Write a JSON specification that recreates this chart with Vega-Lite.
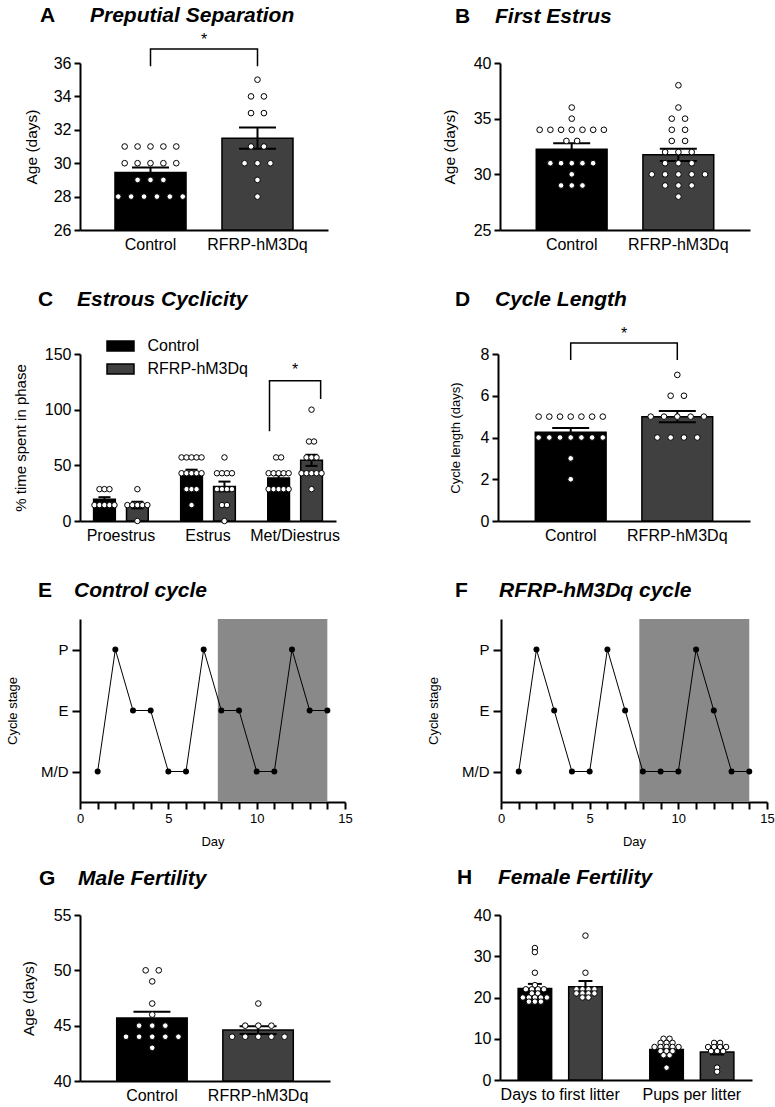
{
 "$schema": "https://vega.github.io/schema/vega-lite/v6.json",
 "padding": {"left": 6, "top": 4, "right": 0, "bottom": 0},
 "background": "white",
 "config": {
  "font": "Liberation Sans",
  "view": {"stroke": null},
  "axis": {"domainColor": "black", "domainWidth": 2, "tickColor": "black", "tickWidth": 2, "tickSize": 6, "labelColor": "black", "labelFontSize": 16, "labelFont": "Liberation Sans", "titleFont": "Liberation Sans", "titleFontSize": 15.5, "titleColor": "black", "titleFontWeight": "normal", "grid": false, "labelPadding": 3, "labelOverlap": false},
  "title": {"anchor": "start", "frame": "group", "font": "Liberation Sans", "fontSize": 21, "fontWeight": "bold", "color": "black"},
  "legend": {"labelFont": "Liberation Sans"}
 },
 "datasets": {
  "A_sum": [{"group": "Control", "mean": 29.45, "sem": 0.3}, {"group": "RFRP-hM3Dq", "mean": 31.5, "sem": 0.64}],
  "A_pts": [
   {"group": "Control", "v": 31}, {"group": "Control", "v": 31}, {"group": "Control", "v": 31}, {"group": "Control", "v": 31}, {"group": "Control", "v": 31},
   {"group": "Control", "v": 30}, {"group": "Control", "v": 30}, {"group": "Control", "v": 30}, {"group": "Control", "v": 30}, {"group": "Control", "v": 30},
   {"group": "Control", "v": 29}, {"group": "Control", "v": 29}, {"group": "Control", "v": 29},
   {"group": "Control", "v": 28}, {"group": "Control", "v": 28}, {"group": "Control", "v": 28}, {"group": "Control", "v": 28}, {"group": "Control", "v": 28}, {"group": "Control", "v": 28},
   {"group": "RFRP-hM3Dq", "v": 35}, {"group": "RFRP-hM3Dq", "v": 34}, {"group": "RFRP-hM3Dq", "v": 34}, {"group": "RFRP-hM3Dq", "v": 33}, {"group": "RFRP-hM3Dq", "v": 33},
   {"group": "RFRP-hM3Dq", "v": 31}, {"group": "RFRP-hM3Dq", "v": 31}, {"group": "RFRP-hM3Dq", "v": 30}, {"group": "RFRP-hM3Dq", "v": 30}, {"group": "RFRP-hM3Dq", "v": 30},
   {"group": "RFRP-hM3Dq", "v": 29}, {"group": "RFRP-hM3Dq", "v": 28}
  ],
  "A_br": [{"group": "Control", "v": 35.8, "o": 1}, {"group": "Control", "v": 36.84, "o": 2}, {"group": "RFRP-hM3Dq", "v": 36.84, "o": 3}, {"group": "RFRP-hM3Dq", "v": 35.8, "o": 4}],
  "A_star": [{"group": "Control", "v": 37.1, "t": "*"}],
  "B_sum": [{"group": "Control", "mean": 32.25, "sem": 0.55}, {"group": "RFRP-hM3Dq", "mean": 31.75, "sem": 0.55}],
  "B_pts": [
   {"group": "Control", "v": 36}, {"group": "Control", "v": 35},
   {"group": "Control", "v": 34}, {"group": "Control", "v": 34}, {"group": "Control", "v": 34}, {"group": "Control", "v": 34}, {"group": "Control", "v": 34}, {"group": "Control", "v": 34}, {"group": "Control", "v": 34},
   {"group": "Control", "v": 33}, {"group": "Control", "v": 33},
   {"group": "Control", "v": 31}, {"group": "Control", "v": 31}, {"group": "Control", "v": 31}, {"group": "Control", "v": 31}, {"group": "Control", "v": 31},
   {"group": "Control", "v": 30}, {"group": "Control", "v": 29}, {"group": "Control", "v": 29}, {"group": "Control", "v": 29},
   {"group": "RFRP-hM3Dq", "v": 38}, {"group": "RFRP-hM3Dq", "v": 36}, {"group": "RFRP-hM3Dq", "v": 35}, {"group": "RFRP-hM3Dq", "v": 35},
   {"group": "RFRP-hM3Dq", "v": 34}, {"group": "RFRP-hM3Dq", "v": 34}, {"group": "RFRP-hM3Dq", "v": 33}, {"group": "RFRP-hM3Dq", "v": 33},
   {"group": "RFRP-hM3Dq", "v": 32}, {"group": "RFRP-hM3Dq", "v": 32}, {"group": "RFRP-hM3Dq", "v": 32},
   {"group": "RFRP-hM3Dq", "v": 31}, {"group": "RFRP-hM3Dq", "v": 31}, {"group": "RFRP-hM3Dq", "v": 31},
   {"group": "RFRP-hM3Dq", "v": 30}, {"group": "RFRP-hM3Dq", "v": 30}, {"group": "RFRP-hM3Dq", "v": 30}, {"group": "RFRP-hM3Dq", "v": 30}, {"group": "RFRP-hM3Dq", "v": 30},
   {"group": "RFRP-hM3Dq", "v": 29}, {"group": "RFRP-hM3Dq", "v": 29}, {"group": "RFRP-hM3Dq", "v": 29}, {"group": "RFRP-hM3Dq", "v": 28}
  ],
  "C_sum": [
   {"phase": "Proestrus", "series": "Control", "mean": 19.6, "sem": 1.8},
   {"phase": "Proestrus", "series": "RFRP-hM3Dq", "mean": 14.3, "sem": 3.0},
   {"phase": "Estrus", "series": "Control", "mean": 42.9, "sem": 3.2},
   {"phase": "Estrus", "series": "RFRP-hM3Dq", "mean": 31.0, "sem": 4.4},
   {"phase": "Met/Diestrus", "series": "Control", "mean": 38.6, "sem": 2.6},
   {"phase": "Met/Diestrus", "series": "RFRP-hM3Dq", "mean": 54.5, "sem": 5.0}
  ],
  "C_pts": [
   {"phase": "Proestrus", "series": "Control", "v": 28.6}, {"phase": "Proestrus", "series": "Control", "v": 28.6}, {"phase": "Proestrus", "series": "Control", "v": 28.6},
   {"phase": "Proestrus", "series": "Control", "v": 14.3}, {"phase": "Proestrus", "series": "Control", "v": 14.3}, {"phase": "Proestrus", "series": "Control", "v": 14.3}, {"phase": "Proestrus", "series": "Control", "v": 14.3}, {"phase": "Proestrus", "series": "Control", "v": 14.3},
   {"phase": "Proestrus", "series": "RFRP-hM3Dq", "v": 28.6},
   {"phase": "Proestrus", "series": "RFRP-hM3Dq", "v": 14.3}, {"phase": "Proestrus", "series": "RFRP-hM3Dq", "v": 14.3}, {"phase": "Proestrus", "series": "RFRP-hM3Dq", "v": 14.3}, {"phase": "Proestrus", "series": "RFRP-hM3Dq", "v": 14.3}, {"phase": "Proestrus", "series": "RFRP-hM3Dq", "v": 14.3},
   {"phase": "Proestrus", "series": "RFRP-hM3Dq", "v": 0},
   {"phase": "Estrus", "series": "Control", "v": 57.1}, {"phase": "Estrus", "series": "Control", "v": 57.1}, {"phase": "Estrus", "series": "Control", "v": 57.1}, {"phase": "Estrus", "series": "Control", "v": 57.1}, {"phase": "Estrus", "series": "Control", "v": 57.1},
   {"phase": "Estrus", "series": "Control", "v": 42.9}, {"phase": "Estrus", "series": "Control", "v": 42.9}, {"phase": "Estrus", "series": "Control", "v": 42.9}, {"phase": "Estrus", "series": "Control", "v": 42.9}, {"phase": "Estrus", "series": "Control", "v": 42.9},
   {"phase": "Estrus", "series": "Control", "v": 28.6}, {"phase": "Estrus", "series": "Control", "v": 28.6}, {"phase": "Estrus", "series": "Control", "v": 28.6},
   {"phase": "Estrus", "series": "Control", "v": 14.3},
   {"phase": "Estrus", "series": "RFRP-hM3Dq", "v": 57.1},
   {"phase": "Estrus", "series": "RFRP-hM3Dq", "v": 42.9}, {"phase": "Estrus", "series": "RFRP-hM3Dq", "v": 42.9}, {"phase": "Estrus", "series": "RFRP-hM3Dq", "v": 42.9}, {"phase": "Estrus", "series": "RFRP-hM3Dq", "v": 42.9},
   {"phase": "Estrus", "series": "RFRP-hM3Dq", "v": 28.6}, {"phase": "Estrus", "series": "RFRP-hM3Dq", "v": 28.6}, {"phase": "Estrus", "series": "RFRP-hM3Dq", "v": 28.6}, {"phase": "Estrus", "series": "RFRP-hM3Dq", "v": 28.6},
   {"phase": "Estrus", "series": "RFRP-hM3Dq", "v": 14.3}, {"phase": "Estrus", "series": "RFRP-hM3Dq", "v": 14.3},
   {"phase": "Estrus", "series": "RFRP-hM3Dq", "v": 0},
   {"phase": "Met/Diestrus", "series": "Control", "v": 57.1}, {"phase": "Met/Diestrus", "series": "Control", "v": 57.1},
   {"phase": "Met/Diestrus", "series": "Control", "v": 42.9}, {"phase": "Met/Diestrus", "series": "Control", "v": 42.9}, {"phase": "Met/Diestrus", "series": "Control", "v": 42.9}, {"phase": "Met/Diestrus", "series": "Control", "v": 42.9}, {"phase": "Met/Diestrus", "series": "Control", "v": 42.9},
   {"phase": "Met/Diestrus", "series": "Control", "v": 28.6}, {"phase": "Met/Diestrus", "series": "Control", "v": 28.6}, {"phase": "Met/Diestrus", "series": "Control", "v": 28.6}, {"phase": "Met/Diestrus", "series": "Control", "v": 28.6}, {"phase": "Met/Diestrus", "series": "Control", "v": 28.6},
   {"phase": "Met/Diestrus", "series": "RFRP-hM3Dq", "v": 100},
   {"phase": "Met/Diestrus", "series": "RFRP-hM3Dq", "v": 71.4}, {"phase": "Met/Diestrus", "series": "RFRP-hM3Dq", "v": 71.4},
   {"phase": "Met/Diestrus", "series": "RFRP-hM3Dq", "v": 57.1}, {"phase": "Met/Diestrus", "series": "RFRP-hM3Dq", "v": 57.1}, {"phase": "Met/Diestrus", "series": "RFRP-hM3Dq", "v": 57.1},
   {"phase": "Met/Diestrus", "series": "RFRP-hM3Dq", "v": 42.9}, {"phase": "Met/Diestrus", "series": "RFRP-hM3Dq", "v": 42.9}, {"phase": "Met/Diestrus", "series": "RFRP-hM3Dq", "v": 42.9}, {"phase": "Met/Diestrus", "series": "RFRP-hM3Dq", "v": 42.9}, {"phase": "Met/Diestrus", "series": "RFRP-hM3Dq", "v": 42.9},
   {"phase": "Met/Diestrus", "series": "RFRP-hM3Dq", "v": 28.6}
  ],
  "C_br": [{"phase": "Met/Diestrus", "series": "Control", "v": 80.6, "o": 1}, {"phase": "Met/Diestrus", "series": "Control", "v": 126, "o": 2}, {"phase": "Met/Diestrus", "series": "RFRP-hM3Dq", "v": 126, "o": 3}, {"phase": "Met/Diestrus", "series": "RFRP-hM3Dq", "v": 109.6, "o": 4}],
  "C_star": [{"phase": "Met/Diestrus", "v": 131, "t": "*"}],
  "D_sum": [{"group": "Control", "mean": 4.25, "sem": 0.21}, {"group": "RFRP-hM3Dq", "mean": 5.0, "sem": 0.27}],
  "D_pts": [
   {"group": "Control", "v": 5}, {"group": "Control", "v": 5}, {"group": "Control", "v": 5}, {"group": "Control", "v": 5}, {"group": "Control", "v": 5}, {"group": "Control", "v": 5}, {"group": "Control", "v": 5},
   {"group": "Control", "v": 4}, {"group": "Control", "v": 4}, {"group": "Control", "v": 4}, {"group": "Control", "v": 4}, {"group": "Control", "v": 4}, {"group": "Control", "v": 4}, {"group": "Control", "v": 4},
   {"group": "Control", "v": 3}, {"group": "Control", "v": 2},
   {"group": "RFRP-hM3Dq", "v": 7}, {"group": "RFRP-hM3Dq", "v": 6}, {"group": "RFRP-hM3Dq", "v": 6},
   {"group": "RFRP-hM3Dq", "v": 5}, {"group": "RFRP-hM3Dq", "v": 5}, {"group": "RFRP-hM3Dq", "v": 5}, {"group": "RFRP-hM3Dq", "v": 5}, {"group": "RFRP-hM3Dq", "v": 5},
   {"group": "RFRP-hM3Dq", "v": 4}, {"group": "RFRP-hM3Dq", "v": 4}, {"group": "RFRP-hM3Dq", "v": 4}, {"group": "RFRP-hM3Dq", "v": 4}
  ],
  "D_br": [{"group": "Control", "v": 7.71, "o": 1}, {"group": "Control", "v": 8.53, "o": 2}, {"group": "RFRP-hM3Dq", "v": 8.53, "o": 3}, {"group": "RFRP-hM3Dq", "v": 7.71, "o": 4}],
  "D_star": [{"group": "Control", "v": 8.72, "t": "*"}],
  "E_shade": [{"start": 7.8, "end": 14}],
  "E_cycle": [
   {"day": 1, "stage": "M/D"}, {"day": 2, "stage": "P"}, {"day": 3, "stage": "E"}, {"day": 4, "stage": "E"}, {"day": 5, "stage": "M/D"}, {"day": 6, "stage": "M/D"}, {"day": 7, "stage": "P"},
   {"day": 8, "stage": "E"}, {"day": 9, "stage": "E"}, {"day": 10, "stage": "M/D"}, {"day": 11, "stage": "M/D"}, {"day": 12, "stage": "P"}, {"day": 13, "stage": "E"}, {"day": 14, "stage": "E"}
  ],
  "F_cycle": [
   {"day": 1, "stage": "M/D"}, {"day": 2, "stage": "P"}, {"day": 3, "stage": "E"}, {"day": 4, "stage": "M/D"}, {"day": 5, "stage": "M/D"}, {"day": 6, "stage": "P"}, {"day": 7, "stage": "E"},
   {"day": 8, "stage": "M/D"}, {"day": 9, "stage": "M/D"}, {"day": 10, "stage": "M/D"}, {"day": 11, "stage": "P"}, {"day": 12, "stage": "E"}, {"day": 13, "stage": "M/D"}, {"day": 14, "stage": "M/D"}
  ],
  "G_sum": [{"group": "Control", "mean": 45.7, "sem": 0.56}, {"group": "RFRP-hM3Dq", "mean": 44.6, "sem": 0.35}],
  "G_pts": [
   {"group": "Control", "v": 50}, {"group": "Control", "v": 50}, {"group": "Control", "v": 49}, {"group": "Control", "v": 47}, {"group": "Control", "v": 46},
   {"group": "Control", "v": 45}, {"group": "Control", "v": 45}, {"group": "Control", "v": 45},
   {"group": "Control", "v": 44}, {"group": "Control", "v": 44}, {"group": "Control", "v": 44}, {"group": "Control", "v": 44}, {"group": "Control", "v": 44},
   {"group": "Control", "v": 43},
   {"group": "RFRP-hM3Dq", "v": 47}, {"group": "RFRP-hM3Dq", "v": 45}, {"group": "RFRP-hM3Dq", "v": 45}, {"group": "RFRP-hM3Dq", "v": 45},
   {"group": "RFRP-hM3Dq", "v": 44}, {"group": "RFRP-hM3Dq", "v": 44}, {"group": "RFRP-hM3Dq", "v": 44}, {"group": "RFRP-hM3Dq", "v": 44}, {"group": "RFRP-hM3Dq", "v": 44}
  ],
  "H_sum": [
   {"grp": "Days to first litter", "series": "Control", "mean": 22.2, "sem": 1.1},
   {"grp": "Days to first litter", "series": "RFRP-hM3Dq", "mean": 22.6, "sem": 1.4},
   {"grp": "Pups per litter", "series": "Control", "mean": 7.4, "sem": 0.45},
   {"grp": "Pups per litter", "series": "RFRP-hM3Dq", "mean": 6.8, "sem": 0.6}
  ],
  "H_pts": [
   {"grp": "Days to first litter", "series": "Control", "v": 32}, {"grp": "Days to first litter", "series": "Control", "v": 31}, {"grp": "Days to first litter", "series": "Control", "v": 26}, {"grp": "Days to first litter", "series": "Control", "v": 23},
   {"grp": "Days to first litter", "series": "Control", "v": 22}, {"grp": "Days to first litter", "series": "Control", "v": 22}, {"grp": "Days to first litter", "series": "Control", "v": 22}, {"grp": "Days to first litter", "series": "Control", "v": 22},
   {"grp": "Days to first litter", "series": "Control", "v": 21}, {"grp": "Days to first litter", "series": "Control", "v": 21},
   {"grp": "Days to first litter", "series": "Control", "v": 20}, {"grp": "Days to first litter", "series": "Control", "v": 20}, {"grp": "Days to first litter", "series": "Control", "v": 20}, {"grp": "Days to first litter", "series": "Control", "v": 20}, {"grp": "Days to first litter", "series": "Control", "v": 20},
   {"grp": "Days to first litter", "series": "Control", "v": 19}, {"grp": "Days to first litter", "series": "Control", "v": 19}, {"grp": "Days to first litter", "series": "Control", "v": 19},
   {"grp": "Days to first litter", "series": "RFRP-hM3Dq", "v": 35}, {"grp": "Days to first litter", "series": "RFRP-hM3Dq", "v": 26},
   {"grp": "Days to first litter", "series": "RFRP-hM3Dq", "v": 22}, {"grp": "Days to first litter", "series": "RFRP-hM3Dq", "v": 22}, {"grp": "Days to first litter", "series": "RFRP-hM3Dq", "v": 22}, {"grp": "Days to first litter", "series": "RFRP-hM3Dq", "v": 22},
   {"grp": "Days to first litter", "series": "RFRP-hM3Dq", "v": 21}, {"grp": "Days to first litter", "series": "RFRP-hM3Dq", "v": 21}, {"grp": "Days to first litter", "series": "RFRP-hM3Dq", "v": 21}, {"grp": "Days to first litter", "series": "RFRP-hM3Dq", "v": 21},
   {"grp": "Days to first litter", "series": "RFRP-hM3Dq", "v": 20}, {"grp": "Days to first litter", "series": "RFRP-hM3Dq", "v": 20},
   {"grp": "Pups per litter", "series": "Control", "v": 10}, {"grp": "Pups per litter", "series": "Control", "v": 10},
   {"grp": "Pups per litter", "series": "Control", "v": 9}, {"grp": "Pups per litter", "series": "Control", "v": 9}, {"grp": "Pups per litter", "series": "Control", "v": 9},
   {"grp": "Pups per litter", "series": "Control", "v": 8}, {"grp": "Pups per litter", "series": "Control", "v": 8}, {"grp": "Pups per litter", "series": "Control", "v": 8}, {"grp": "Pups per litter", "series": "Control", "v": 8}, {"grp": "Pups per litter", "series": "Control", "v": 8},
   {"grp": "Pups per litter", "series": "Control", "v": 7}, {"grp": "Pups per litter", "series": "Control", "v": 7}, {"grp": "Pups per litter", "series": "Control", "v": 7},
   {"grp": "Pups per litter", "series": "Control", "v": 6}, {"grp": "Pups per litter", "series": "Control", "v": 6},
   {"grp": "Pups per litter", "series": "Control", "v": 3},
   {"grp": "Pups per litter", "series": "RFRP-hM3Dq", "v": 9}, {"grp": "Pups per litter", "series": "RFRP-hM3Dq", "v": 9},
   {"grp": "Pups per litter", "series": "RFRP-hM3Dq", "v": 8}, {"grp": "Pups per litter", "series": "RFRP-hM3Dq", "v": 8}, {"grp": "Pups per litter", "series": "RFRP-hM3Dq", "v": 8}, {"grp": "Pups per litter", "series": "RFRP-hM3Dq", "v": 8},
   {"grp": "Pups per litter", "series": "RFRP-hM3Dq", "v": 7}, {"grp": "Pups per litter", "series": "RFRP-hM3Dq", "v": 7}, {"grp": "Pups per litter", "series": "RFRP-hM3Dq", "v": 7},
   {"grp": "Pups per litter", "series": "RFRP-hM3Dq", "v": 3}, {"grp": "Pups per litter", "series": "RFRP-hM3Dq", "v": 2}
  ]
 },
 "resolve": {"scale": {"xOffset": "independent", "fill": "independent"}},
 "spacing": 37,
 "vconcat": [
  {
   "resolve": {"scale": {"xOffset": "independent", "fill": "independent"}},
   "spacing": 36,
   "vconcat": [
    {
     "resolve": {"scale": {"xOffset": "independent", "fill": "independent"}},
     "spacing": 114,
     "hconcat": [
      {
       "title": {"text": "A", "fontStyle": "normal", "dx": -40, "dy": 21, "offset": 0},
       "resolve": {"scale": {"xOffset": "independent", "fill": "independent"}},
       "spacing": 0,
       "vconcat": [{
       "width": 248, "height": 167,
       "title": {"text": "Preputial Separation", "fontStyle": "italic", "dx": 10, "offset": 6},
       "resolve": {"scale": {"xOffset": "independent"}},
       "layer": [
        {"data": {"name": "A_sum"}, "mark": {"type": "bar", "stroke": "black", "strokeWidth": 1.5},
         "encoding": {
          "x": {"field": "group", "type": "nominal", "sort": null, "scale": {"domain": ["Control", "RFRP-hM3Dq"], "paddingInner": 0.336, "paddingOuter": 0.327}, "axis": {"title": null, "ticks": false, "labelAngle": 0, "labelPadding": 6, "labelOverlap": false}},
          "y": {"field": "mean", "type": "quantitative", "scale": {"domain": [26, 36], "nice": false, "zero": false}, "axis": {"title": "Age (days)", "values": [26, 28, 30, 32, 34, 36], "tickCount": 20, "format": "d", "titlePadding": 14, "labelOverlap": false}},
          "y2": {"datum": 26},
          "fill": {"field": "group", "type": "nominal", "scale": {"domain": ["Control", "RFRP-hM3Dq"], "range": ["#000000", "#404040"]}, "legend": null}
         }},
        {"data": {"name": "A_sum"}, "transform": [{"calculate": "datum.mean - datum.sem", "as": "lo"}, {"calculate": "datum.mean + datum.sem", "as": "hi"}],
         "mark": {"type": "rule", "color": "black", "strokeWidth": 2},
         "encoding": {"x": {"field": "group", "type": "nominal"}, "y": {"field": "lo", "type": "quantitative"}, "y2": {"field": "hi"}}},
        {"data": {"name": "A_sum"}, "transform": [{"calculate": "datum.mean - datum.sem", "as": "lo"}, {"calculate": "datum.mean + datum.sem", "as": "hi"}, {"fold": ["lo", "hi"], "as": ["end", "ev"]}],
         "mark": {"type": "tick", "color": "black", "thickness": 2, "size": 37, "opacity": 1},
         "encoding": {"x": {"field": "group", "type": "nominal"}, "y": {"field": "ev", "type": "quantitative"}}},
        {"data": {"name": "A_pts"}, "transform": [{"window": [{"op": "row_number", "as": "r"}, {"op": "count", "as": "n"}], "groupby": ["group", "v"], "frame": [null, null]}, {"calculate": "(datum.r - (datum.n + 1) / 2) * 12.9", "as": "j"}],
         "mark": {"type": "circle", "size": 32, "fill": "white", "stroke": "black", "strokeWidth": 1, "opacity": 1},
         "encoding": {"x": {"field": "group", "type": "nominal"}, "xOffset": {"field": "j", "type": "quantitative", "scale": {"domain": [-35.5, 35.5], "range": [0, 71]}}, "y": {"field": "v", "type": "quantitative"}}},
        {"data": {"name": "A_br"}, "mark": {"type": "line", "color": "black", "strokeWidth": 1.5},
         "encoding": {"x": {"field": "group", "type": "nominal"}, "y": {"field": "v", "type": "quantitative"}, "order": {"field": "o"}}},
        {"data": {"name": "A_star"}, "mark": {"type": "text", "fontSize": 16, "baseline": "alphabetic", "align": "center", "color": "black"},
         "encoding": {"x": {"field": "group", "type": "nominal", "bandPosition": 1.254}, "y": {"field": "v", "type": "quantitative"}, "text": {"field": "t"}}}
       ]
       }]
      },
      {
       "title": {"text": "B", "fontStyle": "normal", "dx": -45, "dy": 21, "offset": 0},
       "resolve": {"scale": {"xOffset": "independent", "fill": "independent"}},
       "spacing": 0,
       "vconcat": [{
       "width": 250, "height": 167,
       "title": {"text": "First Estrus", "fontStyle": "italic", "dx": -5, "offset": 28},
       "resolve": {"scale": {"xOffset": "independent"}},
       "layer": [
        {"data": {"name": "B_sum"}, "mark": {"type": "bar", "stroke": "black", "strokeWidth": 1.5},
         "encoding": {
          "x": {"field": "group", "type": "nominal", "sort": null, "scale": {"domain": ["Control", "RFRP-hM3Dq"], "paddingInner": 0.336, "paddingOuter": 0.34}, "axis": {"title": null, "ticks": false, "labelAngle": 0, "labelPadding": 6, "labelOverlap": false}},
          "y": {"field": "mean", "type": "quantitative", "scale": {"domain": [25, 40], "nice": false, "zero": false}, "axis": {"title": "Age (days)", "values": [25, 30, 35, 40], "tickCount": 20, "format": "d", "titlePadding": 16, "labelOverlap": false}},
          "y2": {"datum": 25},
          "fill": {"field": "group", "type": "nominal", "scale": {"domain": ["Control", "RFRP-hM3Dq"], "range": ["#000000", "#404040"]}, "legend": null}
         }},
        {"data": {"name": "B_sum"}, "transform": [{"calculate": "datum.mean - datum.sem", "as": "lo"}, {"calculate": "datum.mean + datum.sem", "as": "hi"}],
         "mark": {"type": "rule", "color": "black", "strokeWidth": 2},
         "encoding": {"x": {"field": "group", "type": "nominal"}, "y": {"field": "lo", "type": "quantitative"}, "y2": {"field": "hi"}}},
        {"data": {"name": "B_sum"}, "transform": [{"calculate": "datum.mean - datum.sem", "as": "lo"}, {"calculate": "datum.mean + datum.sem", "as": "hi"}, {"fold": ["lo", "hi"], "as": ["end", "ev"]}],
         "mark": {"type": "tick", "color": "black", "thickness": 2, "size": 37, "opacity": 1},
         "encoding": {"x": {"field": "group", "type": "nominal"}, "y": {"field": "ev", "type": "quantitative"}}},
        {"data": {"name": "B_pts"}, "transform": [{"window": [{"op": "row_number", "as": "r"}, {"op": "count", "as": "n"}], "groupby": ["group", "v"], "frame": [null, null]}, {"calculate": "(datum.r - (datum.n + 1) / 2) * (datum.group == 'Control' ? 10.7 : 13.3)", "as": "j"}],
         "mark": {"type": "circle", "size": 32, "fill": "white", "stroke": "black", "strokeWidth": 1, "opacity": 1},
         "encoding": {"x": {"field": "group", "type": "nominal"}, "xOffset": {"field": "j", "type": "quantitative", "scale": {"domain": [-35.5, 35.5], "range": [0, 71]}}, "y": {"field": "v", "type": "quantitative"}}}
       ]
       }]
      }
     ]
    },
    {
     "resolve": {"scale": {"xOffset": "independent", "fill": "independent"}},
     "spacing": 109,
     "hconcat": [
      {
       "title": {"text": "C", "fontStyle": "normal", "dx": -42, "dy": 21, "offset": 0},
       "resolve": {"scale": {"xOffset": "independent", "fill": "independent"}},
       "spacing": 0,
       "vconcat": [{
       "width": 256, "height": 167,
       "title": {"text": "Estrous Cyclicity", "fontStyle": "italic", "dx": -3, "offset": 25},
       "resolve": {"scale": {"xOffset": "independent"}},
       "layer": [
        {"data": {"name": "C_sum"}, "mark": {"type": "bar", "stroke": "black", "strokeWidth": 1.5},
         "encoding": {
          "x": {"field": "phase", "type": "nominal", "sort": null, "scale": {"domain": ["Proestrus", "Estrus", "Met/Diestrus"], "paddingInner": 0.3, "paddingOuter": 0.12}, "axis": {"title": null, "ticks": false, "labelAngle": 0, "labelPadding": 6, "labelOverlap": false}},
          "xOffset": {"field": "series", "type": "nominal", "scale": {"domain": ["Control", "RFRP-hM3Dq"], "paddingInner": 0.34, "paddingOuter": 0.096}},
          "y": {"field": "mean", "type": "quantitative", "scale": {"domain": [0, 150], "nice": false}, "axis": {"title": "% time spent in phase", "titleFontSize": 15, "values": [0, 50, 100, 150], "tickCount": 20, "format": "d", "titlePadding": 16, "labelOverlap": false}},
          "y2": {"datum": 0},
          "fill": {"field": "series", "type": "nominal", "scale": {"domain": ["Control", "RFRP-hM3Dq"], "range": ["#000000", "#404040"]},
                   "legend": {"title": null, "orient": "none", "legendX": 29.5, "legendY": -19, "padding": 0, "symbolType": "M-1.35,-0.5L1.35,-0.5L1.35,0.5L-1.35,0.5Z", "symbolSize": 400, "symbolStrokeColor": "black", "symbolStrokeWidth": 1.5, "labelFontSize": 16, "labelColor": "black", "labelOffset": 16, "rowPadding": 4}}
         }},
        {"data": {"name": "C_sum"}, "transform": [{"calculate": "datum.mean - datum.sem", "as": "lo"}, {"calculate": "datum.mean + datum.sem", "as": "hi"}],
         "mark": {"type": "rule", "color": "black", "strokeWidth": 2},
         "encoding": {"x": {"field": "phase", "type": "nominal"}, "xOffset": {"field": "series", "type": "nominal", "scale": {"domain": ["Control", "RFRP-hM3Dq"], "paddingInner": 0.34, "paddingOuter": 0.096}}, "y": {"field": "lo", "type": "quantitative"}, "y2": {"field": "hi"}}},
        {"data": {"name": "C_sum"}, "transform": [{"calculate": "datum.mean - datum.sem", "as": "lo"}, {"calculate": "datum.mean + datum.sem", "as": "hi"}, {"fold": ["lo", "hi"], "as": ["end", "ev"]}],
         "mark": {"type": "tick", "color": "black", "thickness": 2, "size": 12, "opacity": 1},
         "encoding": {"x": {"field": "phase", "type": "nominal"}, "xOffset": {"field": "series", "type": "nominal", "scale": {"domain": ["Control", "RFRP-hM3Dq"], "paddingInner": 0.34, "paddingOuter": 0.096}}, "y": {"field": "ev", "type": "quantitative"}}},
        {"data": {"name": "C_pts"}, "transform": [{"window": [{"op": "row_number", "as": "r"}, {"op": "count", "as": "n"}], "groupby": ["phase", "series", "v"], "frame": [null, null]}, {"calculate": "(datum.series == 'Control' ? -16.45 : 16.45) + (datum.r - (datum.n + 1) / 2) * 5", "as": "j"}],
         "mark": {"type": "circle", "size": 30, "fill": "white", "stroke": "black", "strokeWidth": 1, "opacity": 1},
         "encoding": {"x": {"field": "phase", "type": "nominal"}, "xOffset": {"field": "j", "type": "quantitative", "scale": {"domain": [-30.47, 30.47], "range": [0, 60.95]}}, "y": {"field": "v", "type": "quantitative"}}},
        {"data": {"name": "C_br"}, "mark": {"type": "line", "color": "black", "strokeWidth": 1.5},
         "encoding": {"x": {"field": "phase", "type": "nominal"}, "xOffset": {"field": "series", "type": "nominal", "scale": {"domain": ["Control", "RFRP-hM3Dq"], "paddingInner": 0.34, "paddingOuter": 0.096}}, "y": {"field": "v", "type": "quantitative"}, "order": {"field": "o"}}},
        {"data": {"name": "C_star"}, "mark": {"type": "text", "fontSize": 16, "baseline": "alphabetic", "align": "center", "color": "black"},
         "encoding": {"x": {"field": "phase", "type": "nominal"}, "y": {"field": "v", "type": "quantitative"}, "text": {"field": "t"}}}
       ]
       }]
      },
      {
       "title": {"text": "D", "fontStyle": "normal", "dx": -43, "dy": 21, "offset": 0},
       "resolve": {"scale": {"xOffset": "independent", "fill": "independent"}},
       "spacing": 0,
       "vconcat": [{
       "width": 252, "height": 167,
       "title": {"text": "Cycle Length", "fontStyle": "italic", "dx": -3, "offset": 16},
       "resolve": {"scale": {"xOffset": "independent"}},
       "layer": [
        {"data": {"name": "D_sum"}, "mark": {"type": "bar", "stroke": "black", "strokeWidth": 1.5},
         "encoding": {
          "x": {"field": "group", "type": "nominal", "sort": null, "scale": {"domain": ["Control", "RFRP-hM3Dq"], "paddingInner": 0.336, "paddingOuter": 0.35}, "axis": {"title": null, "ticks": false, "labelAngle": 0, "labelPadding": 6, "labelOverlap": false}},
          "y": {"field": "mean", "type": "quantitative", "scale": {"domain": [0, 8], "nice": false, "zero": false}, "axis": {"title": "Cycle length (days)", "titleFontSize": 13, "values": [0, 2, 4, 6, 8], "tickCount": 20, "format": "d", "titlePadding": 18, "labelOverlap": false}},
          "y2": {"datum": 0},
          "fill": {"field": "group", "type": "nominal", "scale": {"domain": ["Control", "RFRP-hM3Dq"], "range": ["#000000", "#404040"]}, "legend": null}
         }},
        {"data": {"name": "D_sum"}, "transform": [{"calculate": "datum.mean - datum.sem", "as": "lo"}, {"calculate": "datum.mean + datum.sem", "as": "hi"}],
         "mark": {"type": "rule", "color": "black", "strokeWidth": 2},
         "encoding": {"x": {"field": "group", "type": "nominal"}, "y": {"field": "lo", "type": "quantitative"}, "y2": {"field": "hi"}}},
        {"data": {"name": "D_sum"}, "transform": [{"calculate": "datum.mean - datum.sem", "as": "lo"}, {"calculate": "datum.mean + datum.sem", "as": "hi"}, {"fold": ["lo", "hi"], "as": ["end", "ev"]}],
         "mark": {"type": "tick", "color": "black", "thickness": 2, "size": 37, "opacity": 1},
         "encoding": {"x": {"field": "group", "type": "nominal"}, "y": {"field": "ev", "type": "quantitative"}}},
        {"data": {"name": "D_pts"}, "transform": [{"window": [{"op": "row_number", "as": "r"}, {"op": "count", "as": "n"}], "groupby": ["group", "v"], "frame": [null, null]}, {"calculate": "(datum.r - (datum.n + 1) / 2) * (datum.group == 'Control' ? 10.7 : 13.3)", "as": "j"}],
         "mark": {"type": "circle", "size": 32, "fill": "white", "stroke": "black", "strokeWidth": 1, "opacity": 1},
         "encoding": {"x": {"field": "group", "type": "nominal"}, "xOffset": {"field": "j", "type": "quantitative", "scale": {"domain": [-35.4, 35.4], "range": [0, 70.8]}}, "y": {"field": "v", "type": "quantitative"}}},
        {"data": {"name": "D_br"}, "mark": {"type": "line", "color": "black", "strokeWidth": 1.5},
         "encoding": {"x": {"field": "group", "type": "nominal"}, "y": {"field": "v", "type": "quantitative"}, "order": {"field": "o"}}},
        {"data": {"name": "D_star"}, "mark": {"type": "text", "fontSize": 16, "baseline": "alphabetic", "align": "center", "color": "black"},
         "encoding": {"x": {"field": "group", "type": "nominal", "bandPosition": 1.253}, "y": {"field": "v", "type": "quantitative"}, "text": {"field": "t"}}}
       ]
       }]
      }
     ]
    }
   ]
  },
  {
   "resolve": {"scale": {"xOffset": "independent", "fill": "independent"}},
   "spacing": 19,
   "vconcat": [
    {
     "resolve": {"scale": {"xOffset": "independent", "fill": "independent"}},
     "spacing": 74,
     "hconcat": [
      {
       "title": {"text": "E", "fontStyle": "normal", "dx": -42, "dy": 21, "offset": 0},
       "spacing": 0,
       "vconcat": [{
       "width": 265, "height": 183,
       "title": {"text": "Control cycle", "fontStyle": "italic", "dx": -6, "offset": 18},
       "layer": [
        {"data": {"name": "E_shade"}, "mark": {"type": "rect", "color": "#898989"},
         "encoding": {"x": {"field": "start", "type": "quantitative", "scale": {"domain": [0, 15], "nice": false, "zero": false}, "axis": {"title": "Day", "titleFontSize": 13, "titlePadding": 10, "values": [0, 1, 2, 3, 4, 5, 6, 7, 8, 9, 10, 11, 12, 13, 14, 15], "tickCount": 40, "format": "d", "labelExpr": "datum.value % 5 === 0 ? datum.label : ''", "labelFontSize": 13, "labelFlush": false, "labelOverlap": false, "labelBound": false, "tickSize": 7, "labelPadding": 3}}, "x2": {"field": "end"}}},
        {"data": {"name": "E_cycle"}, "mark": {"type": "line", "color": "black", "strokeWidth": 1},
         "encoding": {"x": {"field": "day", "type": "quantitative"}, "y": {"field": "stage", "type": "nominal", "scale": {"type": "point", "domain": ["P", "E", "M/D"], "padding": 0.5}, "axis": {"title": "Cycle stage", "titleFontSize": 13, "titlePadding": 21, "labelFontSize": 15, "tickSize": 8, "labelPadding": 4, "labelOverlap": false}}, "order": {"field": "day"}}},
        {"data": {"name": "E_cycle"}, "mark": {"type": "circle", "size": 36, "color": "black", "opacity": 1},
         "encoding": {"x": {"field": "day", "type": "quantitative"}, "y": {"field": "stage", "type": "nominal"}}}
       ]
       }]
      },
      {
       "title": {"text": "F", "fontStyle": "normal", "dx": -46, "dy": 21, "offset": 0},
       "spacing": 0,
       "vconcat": [{
       "width": 266, "height": 183,
       "title": {"text": "RFRP-hM3Dq cycle", "fontStyle": "italic", "dx": -2, "offset": 18},
       "layer": [
        {"data": {"name": "E_shade"}, "mark": {"type": "rect", "color": "#898989"},
         "encoding": {"x": {"field": "start", "type": "quantitative", "scale": {"domain": [0, 15], "nice": false, "zero": false}, "axis": {"title": "Day", "titleFontSize": 13, "titlePadding": 10, "values": [0, 1, 2, 3, 4, 5, 6, 7, 8, 9, 10, 11, 12, 13, 14, 15], "tickCount": 40, "format": "d", "labelExpr": "datum.value % 5 === 0 ? datum.label : ''", "labelFontSize": 13, "labelFlush": false, "labelOverlap": false, "labelBound": false, "tickSize": 7, "labelPadding": 3}}, "x2": {"field": "end"}}},
        {"data": {"name": "F_cycle"}, "mark": {"type": "line", "color": "black", "strokeWidth": 1},
         "encoding": {"x": {"field": "day", "type": "quantitative"}, "y": {"field": "stage", "type": "nominal", "scale": {"type": "point", "domain": ["P", "E", "M/D"], "padding": 0.5}, "axis": {"title": "Cycle stage", "titleFontSize": 13, "titlePadding": 21, "labelFontSize": 15, "tickSize": 8, "labelPadding": 4, "labelOverlap": false}}, "order": {"field": "day"}}},
        {"data": {"name": "F_cycle"}, "mark": {"type": "circle", "size": 36, "color": "black", "opacity": 1},
         "encoding": {"x": {"field": "day", "type": "quantitative"}, "y": {"field": "stage", "type": "nominal"}}}
       ]
       }]
      }
     ]
    },
    {
     "resolve": {"scale": {"xOffset": "independent", "fill": "independent"}},
     "spacing": 127,
     "hconcat": [
      {
       "title": {"text": "G", "fontStyle": "normal", "dx": -41, "dy": 21, "offset": 0},
       "resolve": {"scale": {"xOffset": "independent", "fill": "independent"}},
       "spacing": 0,
       "vconcat": [{
       "width": 250, "height": 166,
       "title": {"text": "Male Fertility", "fontStyle": "italic", "dx": -2, "offset": 18},
       "resolve": {"scale": {"xOffset": "independent"}},
       "layer": [
        {"data": {"name": "G_sum"}, "mark": {"type": "bar", "stroke": "black", "strokeWidth": 1.5},
         "encoding": {
          "x": {"field": "group", "type": "nominal", "sort": null, "scale": {"domain": ["Control", "RFRP-hM3Dq"], "paddingInner": 0.336, "paddingOuter": 0.346}, "axis": {"title": null, "ticks": false, "labelAngle": 0, "labelPadding": 6, "labelOverlap": false}},
          "y": {"field": "mean", "type": "quantitative", "scale": {"domain": [40, 55], "nice": false, "zero": false}, "axis": {"title": "Age (days)", "values": [40, 45, 50, 55], "tickCount": 20, "format": "d", "titlePadding": 17, "labelOverlap": false}},
          "y2": {"datum": 40},
          "fill": {"field": "group", "type": "nominal", "scale": {"domain": ["Control", "RFRP-hM3Dq"], "range": ["#000000", "#404040"]}, "legend": null}
         }},
        {"data": {"name": "G_sum"}, "transform": [{"calculate": "datum.mean - datum.sem", "as": "lo"}, {"calculate": "datum.mean + datum.sem", "as": "hi"}],
         "mark": {"type": "rule", "color": "black", "strokeWidth": 2},
         "encoding": {"x": {"field": "group", "type": "nominal"}, "y": {"field": "lo", "type": "quantitative"}, "y2": {"field": "hi"}}},
        {"data": {"name": "G_sum"}, "transform": [{"calculate": "datum.mean - datum.sem", "as": "lo"}, {"calculate": "datum.mean + datum.sem", "as": "hi"}, {"fold": ["lo", "hi"], "as": ["end", "ev"]}],
         "mark": {"type": "tick", "color": "black", "thickness": 2, "size": 37, "opacity": 1},
         "encoding": {"x": {"field": "group", "type": "nominal"}, "y": {"field": "ev", "type": "quantitative"}}},
        {"data": {"name": "G_pts"}, "transform": [{"window": [{"op": "row_number", "as": "r"}, {"op": "count", "as": "n"}], "groupby": ["group", "v"], "frame": [null, null]}, {"calculate": "(datum.r - (datum.n + 1) / 2) * 13.1", "as": "j"}],
         "mark": {"type": "circle", "size": 32, "fill": "white", "stroke": "black", "strokeWidth": 1, "opacity": 1},
         "encoding": {"x": {"field": "group", "type": "nominal"}, "xOffset": {"field": "j", "type": "quantitative", "scale": {"domain": [-35.5, 35.5], "range": [0, 71]}}, "y": {"field": "v", "type": "quantitative"}}}
       ]
       }]
      },
      {
       "title": {"text": "H", "fontStyle": "normal", "dx": -43, "dy": 21, "offset": 0},
       "resolve": {"scale": {"xOffset": "independent", "fill": "independent"}},
       "spacing": 0,
       "vconcat": [{
       "width": 252, "height": 165,
       "title": {"text": "Female Fertility", "fontStyle": "italic", "dx": -2, "offset": 19},
       "resolve": {"scale": {"xOffset": "independent"}},
       "layer": [
        {"data": {"name": "H_sum"}, "mark": {"type": "bar", "stroke": "black", "strokeWidth": 1.5},
         "encoding": {
          "x": {"field": "grp", "type": "nominal", "sort": null, "scale": {"domain": ["Days to first litter", "Pups per litter"], "paddingInner": 0.3, "paddingOuter": 0.107}, "axis": {"title": null, "ticks": false, "labelAngle": 0, "labelPadding": 6, "labelOverlap": false}},
          "xOffset": {"field": "series", "type": "nominal", "scale": {"domain": ["Control", "RFRP-hM3Dq"], "paddingInner": 0.337, "paddingOuter": 0.08}},
          "y": {"field": "mean", "type": "quantitative", "scale": {"domain": [0, 40], "nice": false}, "axis": {"title": null, "values": [0, 10, 20, 30, 40], "tickCount": 20, "format": "d", "labelOverlap": false}},
          "y2": {"datum": 0},
          "fill": {"field": "series", "type": "nominal", "scale": {"domain": ["Control", "RFRP-hM3Dq"], "range": ["#000000", "#404040"]}, "legend": null}
         }},
        {"data": {"name": "H_sum"}, "transform": [{"calculate": "datum.mean - datum.sem", "as": "lo"}, {"calculate": "datum.mean + datum.sem", "as": "hi"}],
         "mark": {"type": "rule", "color": "black", "strokeWidth": 2},
         "encoding": {"x": {"field": "grp", "type": "nominal"}, "xOffset": {"field": "series", "type": "nominal", "scale": {"domain": ["Control", "RFRP-hM3Dq"], "paddingInner": 0.337, "paddingOuter": 0.08}}, "y": {"field": "lo", "type": "quantitative"}, "y2": {"field": "hi"}}},
        {"data": {"name": "H_sum"}, "transform": [{"calculate": "datum.mean - datum.sem", "as": "lo"}, {"calculate": "datum.mean + datum.sem", "as": "hi"}, {"fold": ["lo", "hi"], "as": ["end", "ev"]}],
         "mark": {"type": "tick", "color": "black", "thickness": 2, "size": 14, "opacity": 1},
         "encoding": {"x": {"field": "grp", "type": "nominal"}, "xOffset": {"field": "series", "type": "nominal", "scale": {"domain": ["Control", "RFRP-hM3Dq"], "paddingInner": 0.337, "paddingOuter": 0.08}}, "y": {"field": "ev", "type": "quantitative"}}},
        {"data": {"name": "H_pts"}, "transform": [{"window": [{"op": "row_number", "as": "r"}, {"op": "count", "as": "n"}], "groupby": ["grp", "series", "v"], "frame": [null, null]}, {"calculate": "(datum.series == 'Control' ? -25.28 : 25.28) + (datum.r - (datum.n + 1) / 2) * 6", "as": "j"}],
         "mark": {"type": "circle", "size": 30, "fill": "white", "stroke": "black", "strokeWidth": 1, "opacity": 1},
         "encoding": {"x": {"field": "grp", "type": "nominal"}, "xOffset": {"field": "j", "type": "quantitative", "scale": {"domain": [-46.08, 46.08], "range": [0, 92.16]}}, "y": {"field": "v", "type": "quantitative"}}}
       ]
       }]
      }
     ]
    }
   ]
  }
 ]
}
